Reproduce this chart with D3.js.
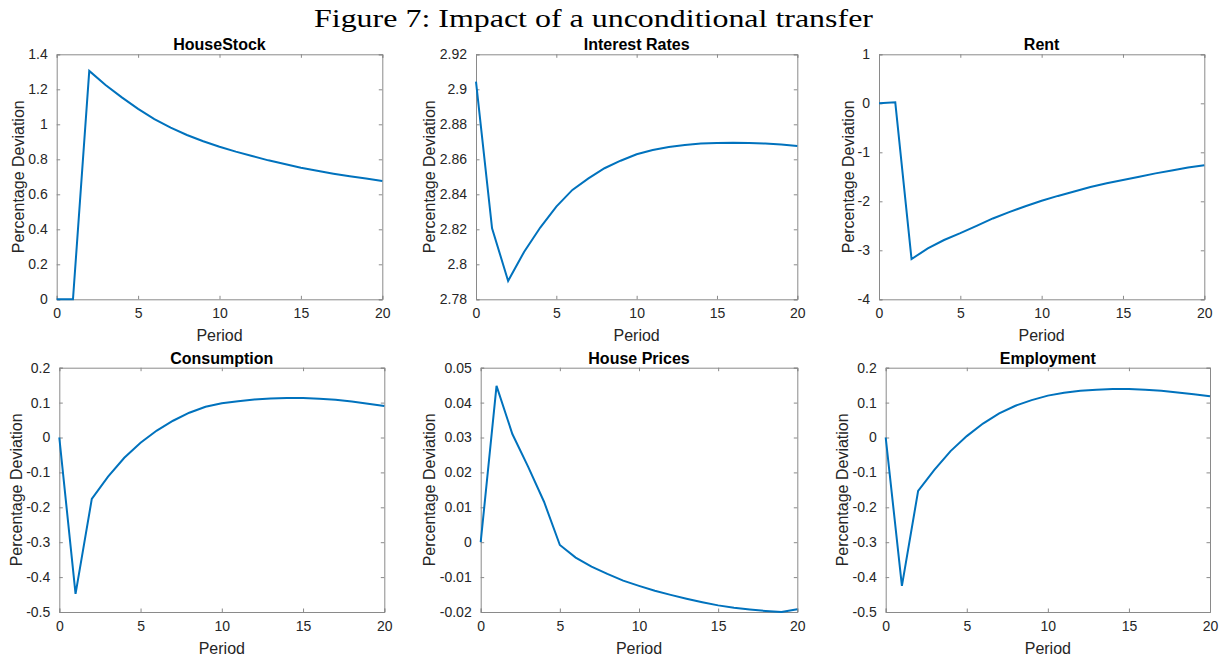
<!DOCTYPE html>
<html><head><meta charset="utf-8">
<script src="https://cdn.jsdelivr.net/npm/d3@7"></script>
<style>
body{margin:0;background:#fff;}
svg{display:block;}
</style></head>
<body>
<svg id="chart" width="1227" height="660"></svg>
<script>
const chartTitle = "Figure 7: Impact of a unconditional transfer";
const periods = d3.range(0, 21);
const xTicks = [0, 5, 10, 15, 20];

const houseStock = [0, 0, 1.305, 1.225, 1.154, 1.088, 1.030, 0.981, 0.939, 0.903, 0.872, 0.844, 0.819, 0.794, 0.773, 0.752, 0.735, 0.718, 0.703, 0.690, 0.676];
const interestRates = [2.9044, 2.8206, 2.7905, 2.8072, 2.8210, 2.8330, 2.8425, 2.8491, 2.8549, 2.8592, 2.8629, 2.8653, 2.8670, 2.8682, 2.8690, 2.8693, 2.8695, 2.8693, 2.8690, 2.8684, 2.8676];
const rent = [0, 0.02, -3.18, -2.96, -2.79, -2.65, -2.50, -2.35, -2.22, -2.10, -1.99, -1.89, -1.80, -1.71, -1.63, -1.565, -1.50, -1.43, -1.37, -1.31, -1.265];
const consumption = [0, -0.448, -0.176, -0.112, -0.058, -0.015, 0.020, 0.048, 0.071, 0.088, 0.098, 0.104, 0.109, 0.112, 0.113, 0.113, 0.111, 0.108, 0.103, 0.097, 0.090];
const housePrices = [0, 0.0448, 0.0310, 0.0216, 0.0116, -0.0008, -0.0044, -0.0070, -0.0091, -0.0110, -0.0125, -0.0139, -0.0151, -0.0162, -0.0172, -0.0181, -0.0188, -0.0193, -0.0197, -0.0200, -0.0192];
const employment = [0, -0.425, -0.153, -0.093, -0.039, 0.004, 0.040, 0.069, 0.091, 0.107, 0.120, 0.128, 0.134, 0.137, 0.139, 0.139, 0.137, 0.134, 0.129, 0.124, 0.118];

const panelTitles = ["HouseStock", "Interest Rates", "Rent", "Consumption", "House Prices", "Employment"];
const seriesList = [houseStock, interestRates, rent, consumption, housePrices, employment];
const yDomains = [[0, 1.4], [2.78, 2.92], [-4, 1], [-0.5, 0.2], [-0.02, 0.05], [-0.5, 0.2]];
const yTickLists = [
  [0, 0.2, 0.4, 0.6, 0.8, 1, 1.2, 1.4],
  [2.78, 2.8, 2.82, 2.84, 2.86, 2.88, 2.9, 2.92],
  [-4, -3, -2, -1, 0, 1],
  [-0.5, -0.4, -0.3, -0.2, -0.1, 0, 0.1, 0.2],
  [-0.02, -0.01, 0, 0.01, 0.02, 0.03, 0.04, 0.05],
  [-0.5, -0.4, -0.3, -0.2, -0.1, 0, 0.1, 0.2]
];
const xLabel = "Period";
const yLabel = "Percentage Deviation";

// layout (pixel boxes of each plot area)
const boxes = [
  {l: 56.7, r: 382.3, t: 54.3, b: 299.3, yl: 38.5},
  {l: 476, r: 797.3, t: 54.3, b: 299.3, yl: 47},
  {l: 879, r: 1204.3, t: 54.3, b: 299.3, yl: 31},
  {l: 59.3, r: 384.3, t: 367.7, b: 612, yl: 43},
  {l: 480.7, r: 797.3, t: 367.7, b: 612, yl: 51.7},
  {l: 885.7, r: 1210, t: 367.7, b: 612, yl: 43.6}
];

const svg = d3.select("#chart");
const fmt = d => String(+d.toFixed(6));
const axisColor = "#8a8a8a";
const textColor = "#262626";
const fontSans = "'Liberation Sans', Arial, Helvetica, sans-serif";

svg.append("text")
  .attr("x", 314).attr("y", 27)
  .attr("font-family", "'Liberation Serif', 'DejaVu Serif', serif")
  .attr("font-size", 26)
  .attr("textLength", 559)
  .attr("lengthAdjust", "spacingAndGlyphs")
  .attr("fill", "#000")
  .text(chartTitle);

boxes.forEach((bx, i) => {
  const x = d3.scaleLinear().domain([0, 20]).range([bx.l, bx.r]);
  const y = d3.scaleLinear().domain(yDomains[i]).range([bx.b, bx.t]);
  const g = svg.append("g");

  // white background box
  g.append("rect").attr("x", bx.l).attr("y", bx.t)
    .attr("width", bx.r - bx.l).attr("height", bx.b - bx.t)
    .attr("fill", "#fff");

  const tk = 3.5;
  const bottom = g.append("g").attr("transform", `translate(0,${bx.b})`)
    .call(d3.axisBottom(x).tickValues(xTicks).tickSize(-tk).tickPadding(9).tickFormat(fmt));
  const top = g.append("g").attr("transform", `translate(0,${bx.t})`)
    .call(d3.axisTop(x).tickValues(xTicks).tickSize(-tk).tickFormat(""));
  const left = g.append("g").attr("transform", `translate(${bx.l},0)`)
    .call(d3.axisLeft(y).tickValues(yTickLists[i]).tickSize(-tk).tickPadding(9).tickFormat(fmt));
  const right = g.append("g").attr("transform", `translate(${bx.r},0)`)
    .call(d3.axisRight(y).tickValues(yTickLists[i]).tickSize(-tk).tickFormat(""));

  [bottom, top, left, right].forEach(a => {
    a.select(".domain").attr("stroke", axisColor).attr("stroke-width", 1);
    a.selectAll(".tick line").attr("stroke", axisColor).attr("stroke-width", 1);
    a.selectAll(".tick text").attr("fill", textColor)
      .attr("font-family", fontSans).attr("font-size", 14);
  });
  bottom.selectAll(".tick text").attr("dy", "0.71em");

  // line
  const line = d3.line().x((d, j) => x(periods[j])).y(d => y(d));
  g.append("path").datum(seriesList[i])
    .attr("d", line)
    .attr("fill", "none")
    .attr("stroke", "#0072BD")
    .attr("stroke-width", 2)
    .attr("stroke-linejoin", "miter");

  const cx = (bx.l + bx.r) / 2;
  g.append("text").attr("x", cx).attr("y", bx.t - 4)
    .attr("text-anchor", "middle")
    .attr("font-family", fontSans).attr("font-weight", "bold")
    .attr("font-size", 16).attr("fill", "#000")
    .text(panelTitles[i]);

  g.append("text").attr("x", cx).attr("y", bx.b + 41.5)
    .attr("text-anchor", "middle")
    .attr("font-family", fontSans).attr("font-size", 16)
    .attr("fill", textColor)
    .text(xLabel);

  const ly = (bx.t + bx.b) / 2;
  const lx = bx.l - bx.yl;
  g.append("text")
    .attr("transform", `translate(${lx},${ly}) rotate(-90)`)
    .attr("text-anchor", "middle").attr("dy", "0.35em")
    .attr("font-family", fontSans).attr("font-size", 16)
    .attr("fill", textColor)
    .text(yLabel);
});
</script>
</body></html>
